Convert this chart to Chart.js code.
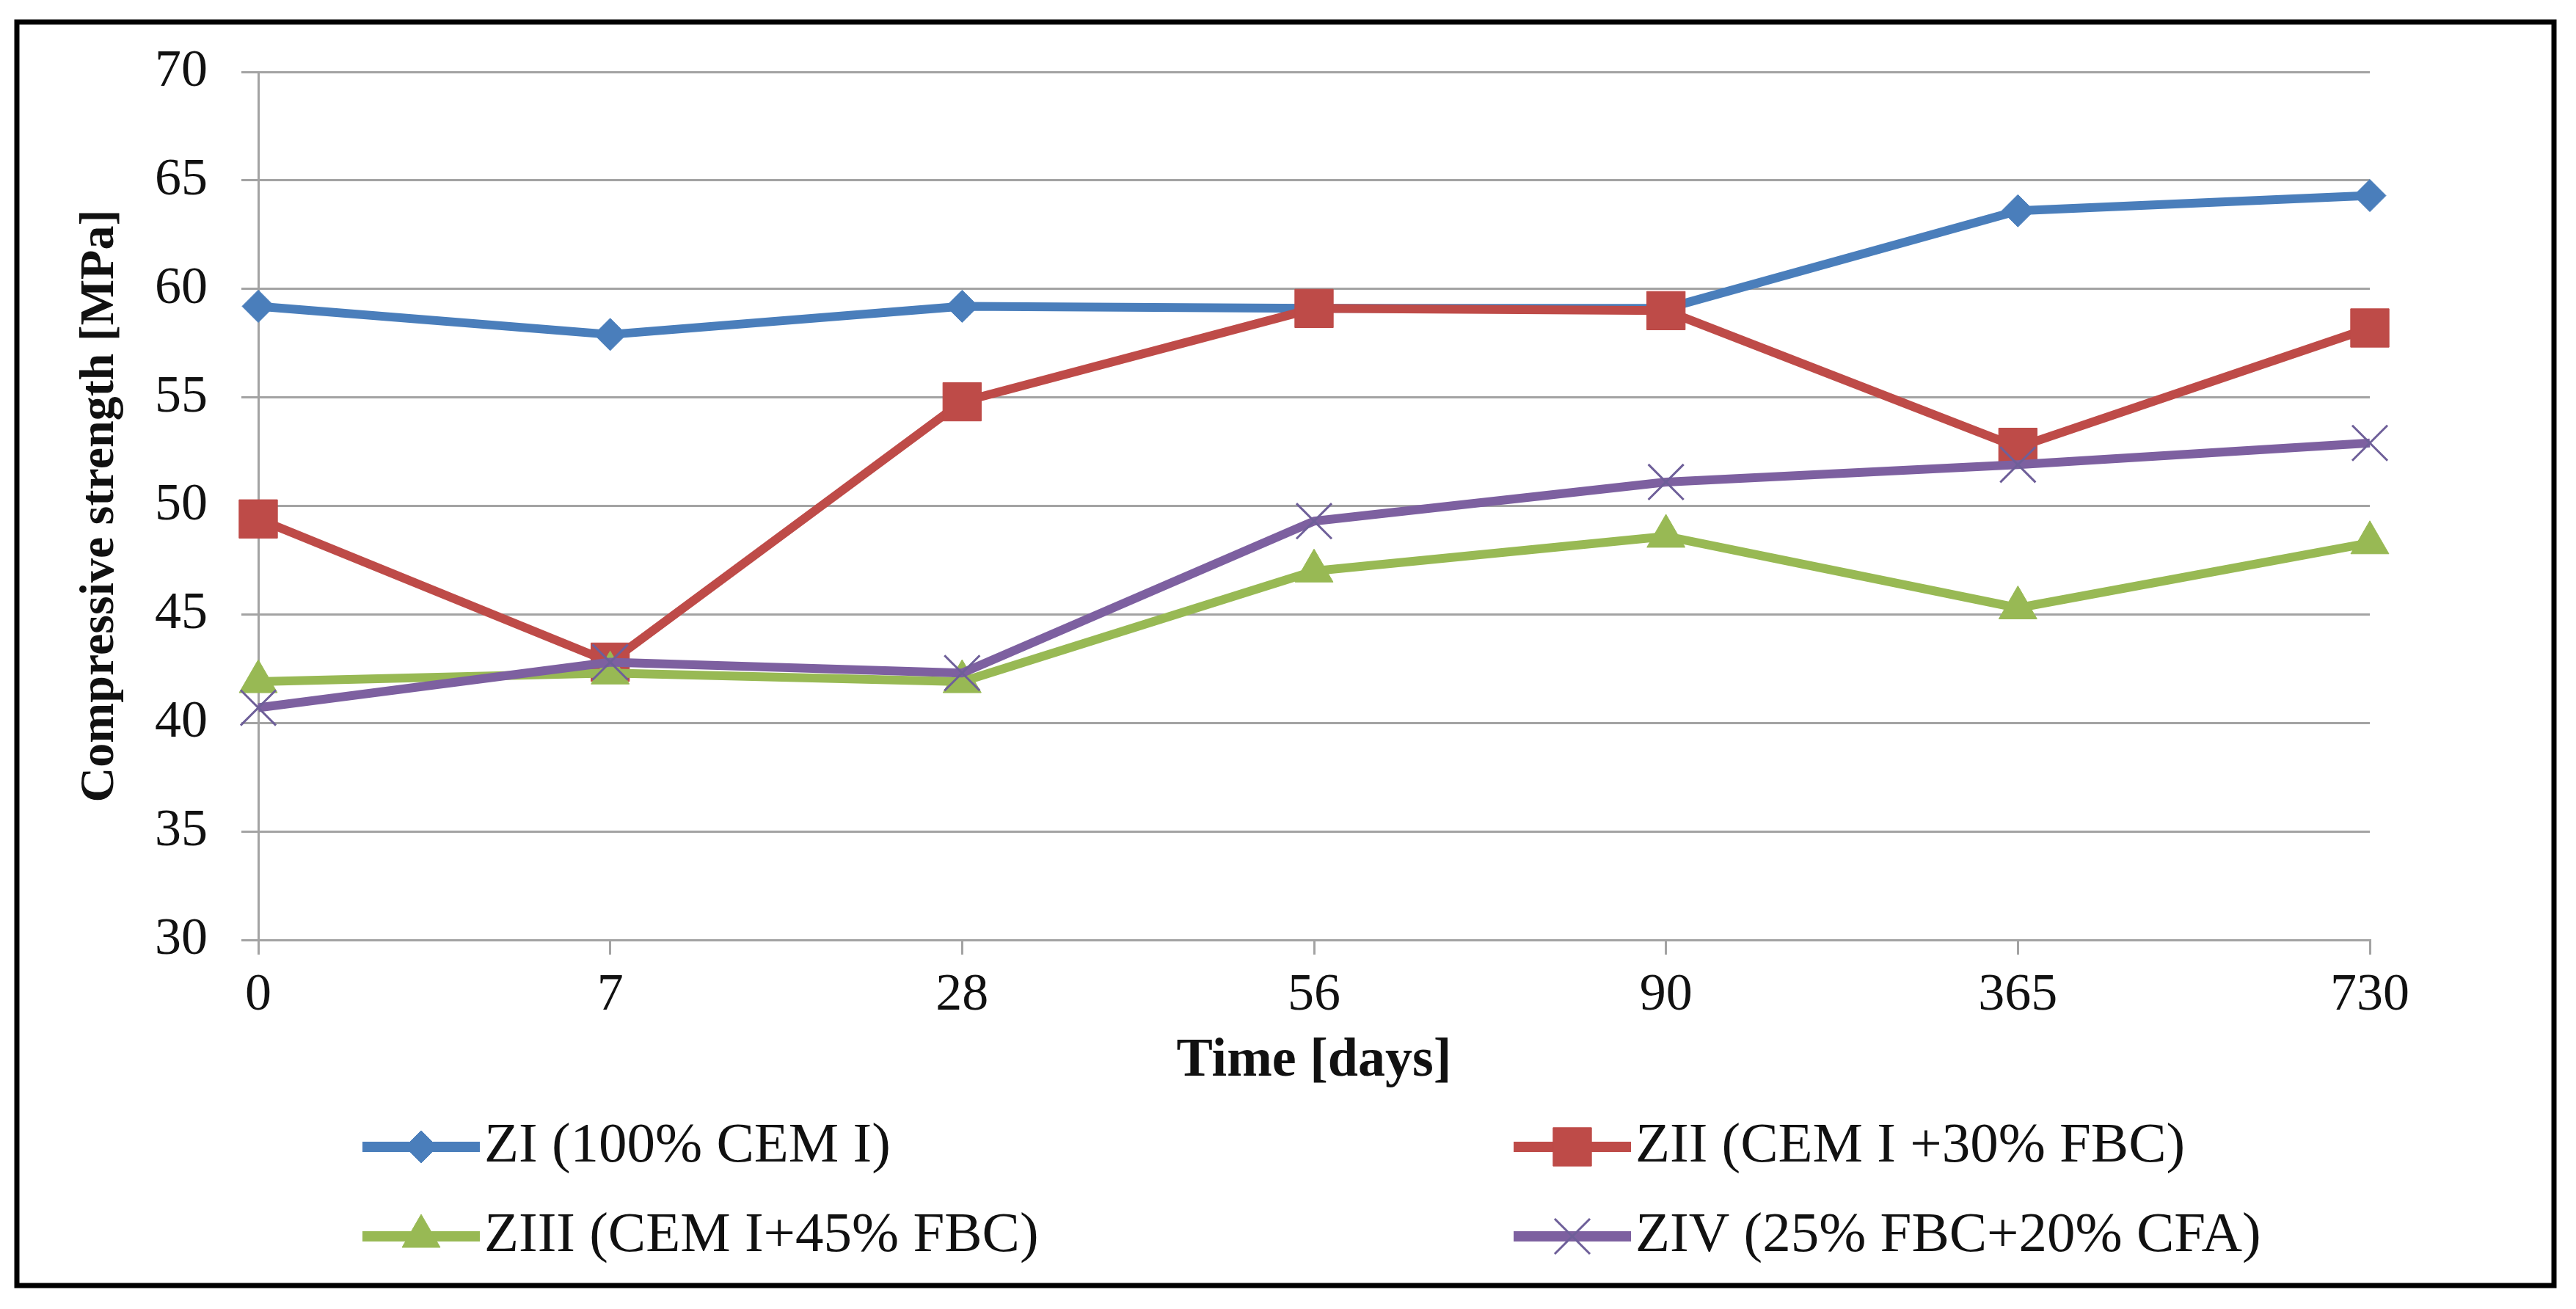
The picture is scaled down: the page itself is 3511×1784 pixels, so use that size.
<!DOCTYPE html>
<html>
<head>
<meta charset="utf-8">
<script src="https://cdn.jsdelivr.net/npm/chart.js@4.4.1/dist/chart.umd.min.js"></script>
<style>
  html, body { margin: 0; padding: 0; background: #fff; }
  canvas { display: block; }
</style>
</head>
<body>
<canvas id="myChart" width="3511" height="1784" style="width:3511px;height:1784px"></canvas>
<script>
// data
var days = ['0', '7', '28', '56', '90', '365', '730'];
var seriesNames = ['ZI (100% CEM I)', 'ZII (CEM I +30% FBC)', 'ZIII (CEM I+45% FBC)', 'ZIV (25% FBC+20% CFA)'];
var zI   = [59.2, 57.9, 59.2, 59.1, 59.1, 63.6, 64.3];
var zII  = [49.4, 42.8, 54.8, 59.1, 59.0, 52.7, 58.2];
var zIII = [41.9, 42.3, 41.9, 47.0, 48.6, 45.3, 48.3];
var zIV  = [40.7, 42.8, 42.3, 49.3, 51.1, 51.9, 52.9];
var yMin = 30, yMax = 70, yStep = 5;

var serif = '"Liberation Serif", "Times New Roman", serif';
var gridGray = '#a3a3a3';

function series(label, values, color, style, radius, order) {
  return {
    label: label,
    data: values,
    borderColor: color,
    backgroundColor: color,
    borderWidth: 12,
    borderJoinStyle: 'round',
    tension: 0,
    pointStyle: style,
    pointRadius: radius,
    pointBackgroundColor: color,
    pointBorderColor: color,
    pointBorderWidth: 1,
    clip: false,
    order: order
  };
}

var dsI = series(seriesNames[0], zI, '#4A7EBB', 'rectRot', 22, 4);
var dsII = series(seriesNames[1], zII, '#BE4B48', 'rect', 37, 3);
var dsIII = series(seriesNames[2], zIII, '#98B954', 'triangle', 30, 2);
var dsIV = series(seriesNames[3], zIV, '#7D60A0', 'crossRot', 34, 1);
dsIV.pointBorderColor = '#6E5F99';
dsIV.pointBorderWidth = 3;

// black frame + two-column legend
var frameAndLegend = {
  id: 'frameAndLegend',
  afterDraw: function(chart) {
    var ctx = chart.ctx;
    ctx.save();
    ctx.lineWidth = 7;
    ctx.strokeStyle = '#000';
    ctx.strokeRect(23, 30, 3481 - 23, 1752 - 30);

    var slots = [{x: 494, y: 1563}, {x: 2063, y: 1563}, {x: 494, y: 1685}, {x: 2063, y: 1685}];
    chart.data.datasets.forEach(function(ds, i) {
      var s = slots[i];
      ctx.strokeStyle = ds.borderColor;
      ctx.lineWidth = 14;
      ctx.lineCap = 'butt';
      ctx.beginPath();
      ctx.moveTo(s.x, s.y);
      ctx.lineTo(s.x + 160, s.y);
      ctx.stroke();

      ctx.fillStyle = ds.pointBackgroundColor;
      ctx.strokeStyle = ds.pointBorderColor;
      ctx.lineWidth = ds.pointBorderWidth;
      Chart.helpers.drawPoint(ctx, {
        pointStyle: ds.pointStyle, radius: ds.pointRadius,
        borderWidth: ds.pointBorderWidth, rotation: 0
      }, s.x + 80, s.y);

      ctx.fillStyle = '#111';
      ctx.font = '77px ' + serif;
      ctx.textBaseline = 'middle';
      ctx.textAlign = 'left';
      ctx.fillText(ds.label, s.x + 166, s.y);
    });
    ctx.restore();
  }
};

var ctx = document.getElementById('myChart').getContext('2d');
var myChart = new Chart(ctx, {
  type: 'line',
  data: {
    labels: days,
    datasets: [dsI, dsII, dsIII, dsIV]
  },
  options: {
    responsive: false,
    devicePixelRatio: 1,
    animation: false,
    layout: { padding: { left: 0, top: 98, right: 281, bottom: 293 } },
    plugins: {
      legend: { display: false },
      tooltip: { enabled: false }
    },
    scales: {
      x: {
        offset: false,
        grid: { drawOnChartArea: false, drawTicks: true, tickLength: 20, color: gridGray, lineWidth: 3 },
        border: { display: true, color: gridGray, width: 3 },
        ticks: {
          padding: 13, color: '#111', maxRotation: 0, autoSkip: false,
          font: { family: serif, size: 72 }
        },
        title: {
          display: true,
          text: 'Time [days]',
          color: '#111',
          font: { family: serif, size: 74, weight: 'bold' },
          padding: { top: 0, bottom: 0 }
        },
        afterFit: function(scale) {
          scale.height = 210;
          scale.paddingLeft = 0;
          scale.paddingRight = 0;
        }
      },
      y: {
        min: yMin,
        max: yMax,
        grid: { color: gridGray, lineWidth: 3, drawTicks: true, tickLength: 23 },
        border: { display: true, color: gridGray, width: 3 },
        ticks: {
          stepSize: yStep, padding: 46, color: '#111',
          font: { family: serif, size: 72 }
        },
        title: {
          display: true,
          text: 'Compressive strength [MPa]',
          color: '#111',
          font: { family: serif, size: 66, weight: 'bold' },
          padding: { top: 97, bottom: 0 }
        },
        afterFit: function(scale) {
          scale.width = 352;
          scale.paddingTop = 0;
          scale.paddingBottom = 0;
        }
      }
    }
  },
  plugins: [frameAndLegend]
});
</script>
</body>
</html>
